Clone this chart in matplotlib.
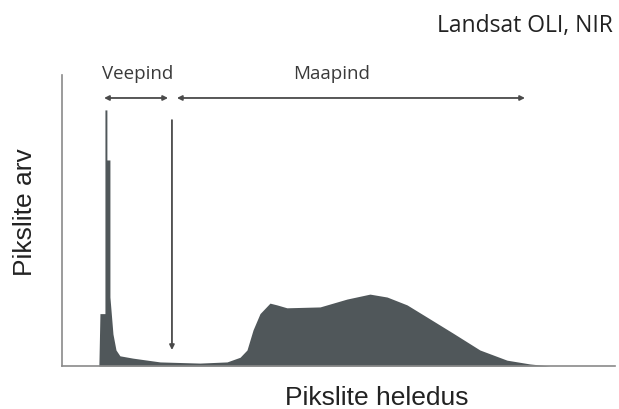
import matplotlib.pyplot as plt
import numpy as np

# Brightness (DN) and pixel count of the NIR histogram
brightness = [17.0, 17.5, 19.8, 19.8, 20.7, 20.7, 22.1, 22.1, 23.5, 24.9, 26.7,
              32.7, 45.2, 63.6, 76.1, 82.1, 85.3, 88.1, 91.3, 95.9, 99.1,
              103.7, 119.0, 131.4, 142.0, 149.9, 159.1, 168.3, 180.3, 192.7,
              205.2, 215.8, 225.0]
counts = [0.0, 18.0, 18.0, 88.0, 88.0, 70.8, 70.8, 23.7, 11.0, 5.5, 3.5,
          2.7, 1.4, 1.0, 1.4, 3.0, 5.5, 12.4, 18.0, 21.6, 21.0,
          20.0, 20.3, 23.0, 24.7, 23.7, 21.0, 16.8, 11.3, 5.5,
          2.0, 0.7, 0.0]

# Class ranges along the brightness axis
water_range = (19.4, 48.9)
land_range = (53.0, 213.5)
threshold = 50.7

FILL = "#50575a"
ARROW = "#4a4a4a"

fig = plt.figure(figsize=(6.19, 4.09), dpi=100)
ax = fig.add_axes([62 / 619, 43 / 409, 553 / 619, 291 / 409])

ax.fill_between(brightness, counts, 0, color=FILL, linewidth=0)

ax.set_xlim(0, 255)
ax.set_ylim(0, 100)
for side in ("top", "right"):
    ax.spines[side].set_visible(False)
for side in ("left", "bottom"):
    ax.spines[side].set_color("#8a8a8a")
    ax.spines[side].set_linewidth(1.2)
ax.set_xticks([])
ax.set_yticks([])

# Range arrows
arrow_y = 92.1
arrow_kw = dict(arrowstyle="<|-|>", color=ARROW, lw=1.3, mutation_scale=7,
                shrinkA=0, shrinkB=0)
ax.annotate("", xy=(water_range[0], arrow_y), xytext=(water_range[1], arrow_y),
            arrowprops=arrow_kw, annotation_clip=False)
ax.annotate("", xy=(land_range[0], arrow_y), xytext=(land_range[1], arrow_y),
            arrowprops=arrow_kw, annotation_clip=False)
ax.annotate("", xy=(threshold, 5.5), xytext=(threshold, 84.5),
            arrowprops=dict(arrowstyle="-|>", color=ARROW, lw=1.3,
                            mutation_scale=7, shrinkA=0, shrinkB=0))

label_kw = dict(ha="center", va="center", fontsize=13.5, family="Open Sans",
                color="#3a3a3a")
fig.text(137.5 / 619, 1 - 74 / 409, "Veepind", **label_kw)
fig.text(331.5 / 619, 1 - 74 / 409, "Maapind", **label_kw)

fig.text(613 / 619, 1 - 26 / 409, "Landsat OLI, NIR", ha="right", va="center",
         fontsize=16.5, family="Open Sans", color="#222222")
fig.text(32 / 619, 1 - 212 / 409, "Pikslite arv", rotation=90,
         rotation_mode="anchor", ha="center", va="baseline", fontsize=19,
         family="Liberation Sans", color="#222222")
fig.text(377 / 619, 1 - 405 / 409, "Pikslite heledus", ha="center",
         va="baseline", fontsize=19, family="Liberation Sans", color="#222222")

fig.savefig("out.png", dpi=100)
